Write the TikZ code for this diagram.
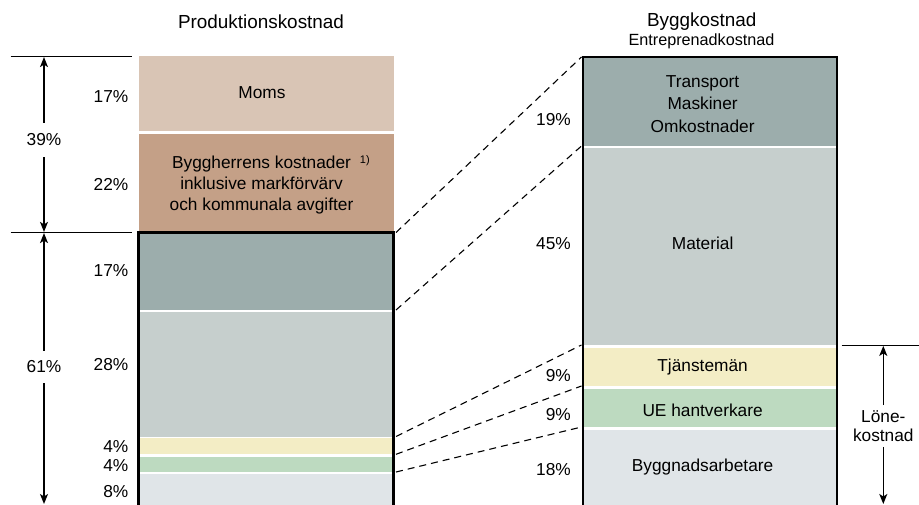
\documentclass[tikz,border=0pt]{standalone}
\usepackage{fontspec}
\setmainfont{Liberation Sans}
\usetikzlibrary{arrows.meta}
\definecolor{cmoms}{HTML}{D9C5B5}
\definecolor{cbyggh}{HTML}{C4A087}
\definecolor{cteal}{HTML}{9CADAC}
\definecolor{cgray}{HTML}{C6CFCD}
\definecolor{cyellow}{HTML}{F3EDC5}
\definecolor{cgreen}{HTML}{BDDAC0}
\definecolor{clight}{HTML}{E0E5E8}
\tikzset{
  seg/.style={draw=none, inner sep=0pt, outer sep=0pt, anchor=north west},
  txt/.style={inner sep=0pt, font=\fontsize{17.3}{21}\selectfont, align=center},
  pct/.style={inner sep=0pt, font=\fontsize{17.3}{21}\selectfont, anchor=east},
  dimlbl/.style={inner xsep=0pt, font=\fontsize{17.3}{19.5}\selectfont, align=center},
  dimline/.style={line width=1.3pt},
  arr/.style={line width=1.3pt, -{Stealth[length=10pt,width=8pt,inset=2.5pt]}},
  link/.style={line width=1.1pt, dash pattern=on 7pt off 5pt},
  frame/.style={line width=2.8pt, line join=miter},
}
\begin{document}
\begin{tikzpicture}[x=1pt,y=-1pt]
\useasboundingbox (0,0) rectangle (919,505);

% titles
\node[txt, font=\fontsize{18.9}{22}\selectfont] (t1) at (261,21.5) {Produktionskostnad};
\node[txt, font=\fontsize{18.9}{22}\selectfont] (t2) at (701.7,22) {Byggkostnad};
\node[txt, font=\fontsize{16.2}{19}\selectfont] (t3) at (701.5,41.5) {Entreprenadkostnad};

% left column
\node[seg, fill=cmoms,   minimum width=255pt, minimum height=74.5pt] (moms)   at (138.5,56.5) {};
\node[seg, fill=cbyggh,  minimum width=255pt, minimum height=98pt]   (byggh)  at (138.5,134.5) {};
\node[seg, fill=cteal,   minimum width=255pt, minimum height=77.5pt] (tealL)  at (138.5,232.5) {};
\node[seg, fill=cgray,   minimum width=255pt, minimum height=124.5pt](grayL)  at (138.5,312) {};
\node[seg, fill=cyellow, minimum width=255pt, minimum height=16.1pt] (yelL)   at (138.5,438.2) {};
\node[seg, fill=cgreen,  minimum width=255pt, minimum height=15.5pt] (grnL)   at (138.5,456.5) {};
\node[seg, fill=clight,  minimum width=255pt, minimum height=40pt]   (lightL) at (138.5,474.3) {};
\draw[frame] ([yshift=-10pt]lightL.south west) -- (tealL.north west) -- (tealL.north east) -- ([yshift=-10pt]lightL.south east);

\node[txt] (lmoms) at (262,93) {Moms};
\node[txt] (lbyggh) at (261.5,184.5) {Byggherrens kostnader\rlap{\hspace{9pt}\raisebox{5pt}{\fontsize{11}{13}\selectfont 1)}}\\inklusive markförvärv\\och kommunala avgifter};

% right column
\node[seg, fill=cteal,   minimum width=254pt, minimum height=89pt]   (tealR)  at (583,57) {};
\node[seg, fill=cgray,   minimum width=254pt, minimum height=197pt]  (grayR)  at (583,148) {};
\node[seg, fill=cyellow, minimum width=254pt, minimum height=38.5pt] (yelR)   at (583,347.5) {};
\node[seg, fill=cgreen,  minimum width=254pt, minimum height=38.5pt] (grnR)   at (583,388.5) {};
\node[seg, fill=clight,  minimum width=254pt, minimum height=85pt]   (lightR) at (583,429.5) {};
\draw[frame] ([yshift=-10pt]lightR.south west) -- (tealR.north west) -- (tealR.north east) -- ([yshift=-10pt]lightR.south east);

\node[txt, font=\fontsize{17.3}{22.4}\selectfont] (ltrans) at (702.6,104) {Transport\\Maskiner\\Omkostnader};
\node[txt] (lmat) at (702.6,243.3) {Material};
\node[txt] (ltj) at (702.6,367) {Tjänstemän};
\node[txt] (lue) at (702.6,410.3) {UE hantverkare};
\node[txt] (lba) at (702.6,467.5) {Byggnadsarbetare};

% percentages left
\node[pct] (p1) at (128.5,97) {17\%};
\node[pct] (p2) at (128.5,184.6) {22\%};
\node[pct] (p3) at (128.5,270.5) {17\%};
\node[pct] (p4) at (128.5,365) {28\%};
\node[pct] (p5) at (128.5,447) {4\%};
\node[pct] (p6) at (128.5,465.5) {4\%};
\node[pct] (p7) at (128.5,492) {8\%};

% percentages right
\node[pct] (q1) at (571,119.4) {19\%};
\node[pct] (q2) at (571,243.3) {45\%};
\node[pct] (q3) at (571,375.5) {9\%};
\node[pct] (q4) at (571,415) {9\%};
\node[pct] (q5) at (571,470) {18\%};

% dashed links
\draw[link] ([xshift=2.5pt]tealL.north east) -- ([xshift=-1.5pt]tealR.north west);
\draw[link] ([xshift=2.5pt]tealL.south east) -- ([xshift=-1.5pt]tealR.south west);
\draw[link] ([xshift=2.5pt]grayL.south east) -- ([xshift=-1.5pt]grayR.south west);
\draw[link] ([xshift=2.5pt]yelL.south east) -- ([xshift=-1.5pt]yelR.south west);
\draw[link] ([xshift=2.5pt]grnL.south east) -- ([xshift=-1.5pt]grnR.south west);

% left dimension
\coordinate (da) at (10.5,56.5);  \coordinate (db) at (132,56.5);
\coordinate (dc) at (10.5,232.5); \coordinate (dd) at (132,232.5);
\draw[dimline] (da) -- (db);
\draw[dimline] (dc) -- (dd);
\coordinate (a39t) at (44,57.1);
\coordinate (a39b) at (44,231.9);
\coordinate (a61t) at (44,233.1);
\coordinate (a61b) at (44,504);
\node[dimlbl, inner ysep=11pt] (d39) at (44,140) {39\%};
\node[dimlbl, inner ysep=10pt] (d61) at (44,367) {61\%};
\draw[arr] (d39) -- (a39t);
\draw[arr] (d39) -- (a39b);
\draw[arr] (d61) -- (a61t);
\draw[arr] (d61) -- (a61b);

% Lönekostnad dimension
\coordinate (la) at (841.7,345.3); \coordinate (lb) at (922,345.3);
\draw[dimline] (la) -- (lb);
\coordinate (alt) at (883.3,345.9);
\coordinate (alb) at (883.3,504);
\node[dimlbl, inner ysep=5pt] (dlk) at (883.3,426) {Löne-\\kostnad};
\draw[arr] (dlk) -- (alt);
\draw[arr] (dlk) -- (alb);
\end{tikzpicture}
\end{document}
